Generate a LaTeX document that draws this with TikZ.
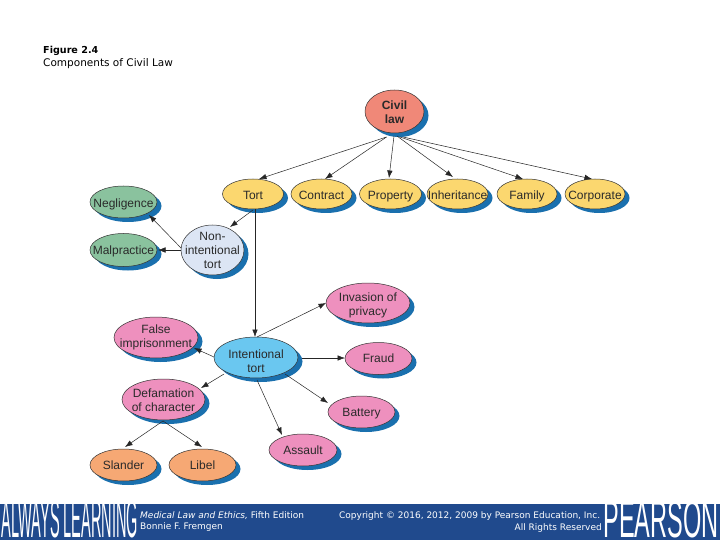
\documentclass[tikz,border=0pt]{standalone}
\usepackage{fontspec}
\setmainfont{Liberation Sans}
\newfontfamily\vfont{DejaVu Sans}
\usetikzlibrary{arrows.meta,shapes.geometric,calc}
\definecolor{bandblue}{HTML}{204A8D}
\definecolor{shadowblue}{HTML}{1A70AE}
\definecolor{civilc}{HTML}{F08878}
\definecolor{yel}{HTML}{FBD76F}
\definecolor{grn}{HTML}{8AC29E}
\definecolor{pale}{HTML}{DCE5F4}
\definecolor{pnk}{HTML}{EE90BE}
\definecolor{sky}{HTML}{6AC7F0}
\definecolor{org}{HTML}{F6A874}
\definecolor{txt}{HTML}{2A2A2A}
\tikzset{
 bub/.style n args={3}{ellipse,draw=black!80,line width=0.5pt,fill=#1,minimum width=#2pt,minimum height=#3pt,inner sep=0pt},
 bubtext/.style={inner sep=0pt,align=center,font=\fontsize{12}{14}\selectfont,text=txt},
 conn/.style={-{Latex[length=7.5pt,width=5.5pt]},line width=0.5pt,draw=black!85},
 shad/.style={fill=shadowblue,draw=none},
 vtext/.style={font=\vfont\fontsize{10.5}{12}\selectfont,inner sep=0pt,anchor=west,text=black},
 btext/.style={font=\vfont\fontsize{9}{12}\selectfont,inner sep=0pt,text=white},
 logo/.style={inner sep=0pt,text=white,anchor=center},
}
% name, cx, cy, w, h, colour, text, text offset
\newcommand{\bubble}[8]{%
 \fill[shad] (#2+4.5,#3+4) ellipse ({#4/2} and {#5/2});
 \node[bub={#6}{#4}{#5}] (#1) at (#2,#3) {};
 \node[bubtext] (#1-t) at (#2,#3+#8+1.8) {\strut #7\strut};
}
\begin{document}
\begin{tikzpicture}[x=1pt,y=-1pt]
\useasboundingbox (0,0) rectangle (720,540);
\fill[white] (0,0) rectangle (720,540);
\node[vtext,font=\vfont\bfseries\fontsize{9.6}{12}\selectfont] (fig) at (43,50.5) {Figure 2.4};
\node[vtext] (cap) at (43,63.5) {Components of Civil Law};

\bubble{civil}{394.5}{111.5}{59}{43}{civilc}{\textbf{Civil}\\\textbf{law}}{0}
\bubble{tort}{253}{194}{61}{30}{yel}{Tort}{0.5}
\bubble{contract}{321.5}{194}{61}{30}{yel}{Contract}{0.5}
\bubble{property}{390.5}{194}{62}{30}{yel}{Property}{0.5}
\bubble{inherit}{457.5}{194}{61}{30}{yel}{Inheritance}{0.5}
\bubble{family}{527}{194}{60}{30}{yel}{Family}{0.5}
\bubble{corp}{595}{194}{60}{30}{yel}{Corporate}{0.5}
\bubble{negl}{123.5}{202}{67}{32}{grn}{Negligence}{0.5}
\bubble{malp}{123.5}{250}{67}{33}{grn}{Malpractice}{0}
\bubble{nonint}{212.5}{250}{63}{50}{pale}{Non-\\intentional\\tort}{0}
\bubble{intent}{256}{357.5}{84}{41}{sky}{Intentional\\tort}{3.5}
\bubble{invasion}{368}{303}{84}{40}{pnk}{Invasion of\\privacy}{1}
\bubble{false}{156}{337.5}{84}{41}{pnk}{False\\imprisonment}{-1.5}
\bubble{fraud}{378.5}{358.5}{67}{32}{pnk}{Fraud}{-0.5}
\bubble{defam}{163.5}{399.5}{83}{41}{pnk}{Defamation\\of character}{0.5}
\bubble{battery}{361.5}{412}{67}{32}{pnk}{Battery}{0}
\bubble{assault}{303}{450}{68}{32}{pnk}{Assault}{0}
\bubble{slander}{123.5}{465}{67}{32}{org}{Slander}{0}
\bubble{libel}{202.5}{465}{67}{32}{org}{Libel}{0}

\draw[conn] ($(civil)+(-8,25.5)$) -- ($(tort)+(6,-15)$);
\draw[conn] ($(civil)+(-8,25.5)$) -- ($(contract)+(3.5,-15)$);
\draw[conn] ($(civil)+(-0.5,24.5)$) -- ($(property)+(-1.5,-16)$);
\draw[conn] ($(civil)+(2.5,24.5)$) -- ($(inherit)+(-4.5,-17)$);
\draw[conn] ($(civil)+(5.5,25.5)$) -- ($(family)+(-4,-15)$);
\draw[conn] ($(civil)+(8.5,25.5)$) -- ($(corp)+(-3,-15)$);
\draw[conn] ($(tort)+(0,16)$) -- ($(nonint)+(17.5,-23)$);
\draw[conn] ($(nonint)+(-31.5,-2)$) -- ($(negl)+(25.5,13)$);
\draw[conn] ($(nonint)+(-31.5,0)$) -- ($(malp)+(34.5,0)$);
\draw[conn] ($(tort)+(2,15)$) -- ($(intent)+(-1,-20.5)$);
\draw[conn] ($(intent)+(1,-20.5)$) -- ($(invasion)+(-42,0)$);
\draw[conn] ($(intent)+(-42,-0.5)$) -- ($(false)+(38,10.5)$);
\draw[conn] ($(intent)+(46,0.5)$) -- ($(fraud)+(-33.5,-0.5)$);
\draw[conn] ($(intent)+(-32,16.5)$) -- ($(defam)+(37.5,-11.5)$);
\draw[conn] ($(intent)+(29,16.5)$) -- ($(battery)+(-33.5,-9)$);
\draw[conn] ($(intent)+(1,22.5)$) -- ($(assault)+(-21,-15)$);
\draw[conn] ($(defam)+(-0.5,21.5)$) -- ($(slander)+(1.5,-18)$);
\draw[conn] ($(defam)+(-0.5,21.5)$) -- ($(libel)+(-0.5,-18)$);

\fill[bandblue] (0,504) rectangle (720,540);
\node[logo,font=\fontsize{30}{30}\selectfont,xscale=0.485,yscale=1.8] (al) at (70,519) {ALWAYS LEARNING};
\node[btext,anchor=west] (b1) at (140,515.5) {\itshape Medical Law and Ethics, \upshape Fifth Edition};
\node[btext,anchor=west] (b2) at (140,527) {Bonnie F. Fremgen};
\node[btext,anchor=west] (c1) at (339,516.5) {Copyright © 2016, 2012, 2009 by Pearson Education, Inc.};
\node[btext,anchor=east] (c2) at (602,528) {All Rights Reserved};
\fill[bandblue] (602,504) rectangle (720,540);
\node[logo,font=\fontsize{32}{32}\selectfont,xscale=0.735,yscale=1.65] (ps) at (661,519) {PEARSON};
\end{tikzpicture}
\end{document}
